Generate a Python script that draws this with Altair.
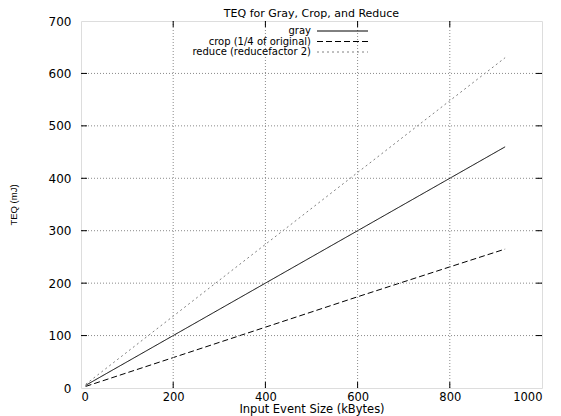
import altair as alt
import pandas as pd

# ---- data ----
x_vals = [10, 200, 400, 600, 800, 920]
gray_vals = [5, 100, 200, 300, 400, 460]
crop_vals = [3, 58, 116, 174, 231, 265]
reduce_vals = [7, 137, 274, 411, 548, 630]
series_names = ["gray", "crop (1/4 of original)", "reduce (reducefactor 2)"]
x_ticks = [0, 200, 400, 600, 800, 1000]
y_ticks = [0, 100, 200, 300, 400, 500, 600, 700]
x_grid = [200, 400, 600, 800]
y_grid = [100, 200, 300, 400, 500, 600]

FONT = "DejaVu Sans"
W, H = 461, 367

rows = []
for name, vals in zip(series_names, [gray_vals, crop_vals, reduce_vals]):
    for xv, yv in zip(x_vals, vals):
        rows.append({"size": xv, "teq": yv, "series": name})
df = pd.DataFrame(rows)

xscale = alt.Scale(domain=[0, 1000], nice=False, zero=False)
yscale = alt.Scale(domain=[0, 700], nice=False, zero=False)

x_axis = alt.Axis(values=x_ticks, format="d", title="Input Event Size (kBytes)", grid=False,
                  ticks=False, domain=False, labelPadding=3, labelFontSize=11.5,
                  titleFontSize=11.5, titlePadding=1, labelFont=FONT, titleFont=FONT,
                  titleFontWeight="normal", labelColor="black", titleColor="black")
y_axis = alt.Axis(values=y_ticks, format="d", title="TEQ (mJ)", grid=False,
                  ticks=False, domain=False, labelPadding=10, labelFontSize=12,
                  titleFontSize=9.5, titlePadding=30, labelFont=FONT,
                  titleFont="Liberation Sans",
                  titleFontWeight="normal", labelColor="black", titleColor="black")

colors = ["black", "black", "#808080"]
dashes = [[1, 0], [6, 3], [2, 3]]

lines = alt.Chart(df).mark_line(strokeWidth=1).encode(
    x=alt.X("size:Q", scale=xscale, axis=x_axis),
    y=alt.Y("teq:Q", scale=yscale, axis=y_axis),
    color=alt.Color("series:N", scale=alt.Scale(domain=series_names, range=colors), legend=None),
    strokeDash=alt.StrokeDash("series:N", scale=alt.Scale(domain=series_names, range=dashes), legend=None),
)

# dotted grid (interior only, as gnuplot draws it)
gx = alt.Chart(pd.DataFrame({"size": x_grid})).mark_rule(
    strokeDash=[1, 2], color="#8a8a8a", strokeWidth=1
).encode(x=alt.X("size:Q", scale=xscale, axis=x_axis))
gy = alt.Chart(pd.DataFrame({"teq": y_grid})).mark_rule(
    strokeDash=[1, 2], color="#8a8a8a", strokeWidth=1
).encode(y=alt.Y("teq:Q", scale=yscale, axis=y_axis))

# inward ticks on all four sides
tick_df_x = pd.DataFrame({"size": x_grid})
tick_df_y = pd.DataFrame({"teq": y_grid})
tb = alt.Chart(tick_df_x).mark_rule(color="black").encode(
    x=alt.X("size:Q", scale=xscale, axis=x_axis), y=alt.value(H - 6), y2=alt.value(H))
tt = alt.Chart(tick_df_x).mark_rule(color="black").encode(
    x=alt.X("size:Q", scale=xscale, axis=x_axis), y=alt.value(0), y2=alt.value(6))
tl = alt.Chart(tick_df_y).mark_rule(color="black").encode(
    y=alt.Y("teq:Q", scale=yscale, axis=y_axis), x=alt.value(0), x2=alt.value(6))
tr = alt.Chart(tick_df_y).mark_rule(color="black").encode(
    y=alt.Y("teq:Q", scale=yscale, axis=y_axis), x=alt.value(W - 6), x2=alt.value(W))

# ---- legend (gnuplot style: label right-aligned, sample to the right) ----
leg_rows_y = [10, 20.5, 31]
leg_layers = []
for name, col, dash, ry in zip(series_names, colors, dashes, leg_rows_y):
    leg_layers.append(
        alt.Chart(pd.DataFrame({"label": [name]})).mark_text(
            align="right", baseline="middle", font=FONT, fontSize=10, color="black"
        ).encode(text="label:N", x=alt.value(230), y=alt.value(ry))
    )
    leg_layers.append(
        alt.Chart(pd.DataFrame({"label": [name]})).mark_rule(
            color=col, strokeDash=dash, strokeWidth=1
        ).encode(x=alt.value(236), x2=alt.value(287), y=alt.value(ry))
    )

chart = alt.layer(lines, gx, gy, tb, tt, tl, tr, *leg_layers).properties(
    width=W, height=H,
    title=alt.TitleParams("TEQ for Gray, Crop, and Reduce", font=FONT, fontSize=11,
                          fontWeight="normal", anchor="middle", offset=-4, color="black"),
    autosize=alt.AutoSizeParams(type="none"),
    padding={"left": 73, "top": 13, "right": 11, "bottom": 28},
).configure_view(stroke="black", strokeWidth=1.5).configure(background="white")

chart.save("out.html", embed_options={"renderer": "svg", "actions": False})
